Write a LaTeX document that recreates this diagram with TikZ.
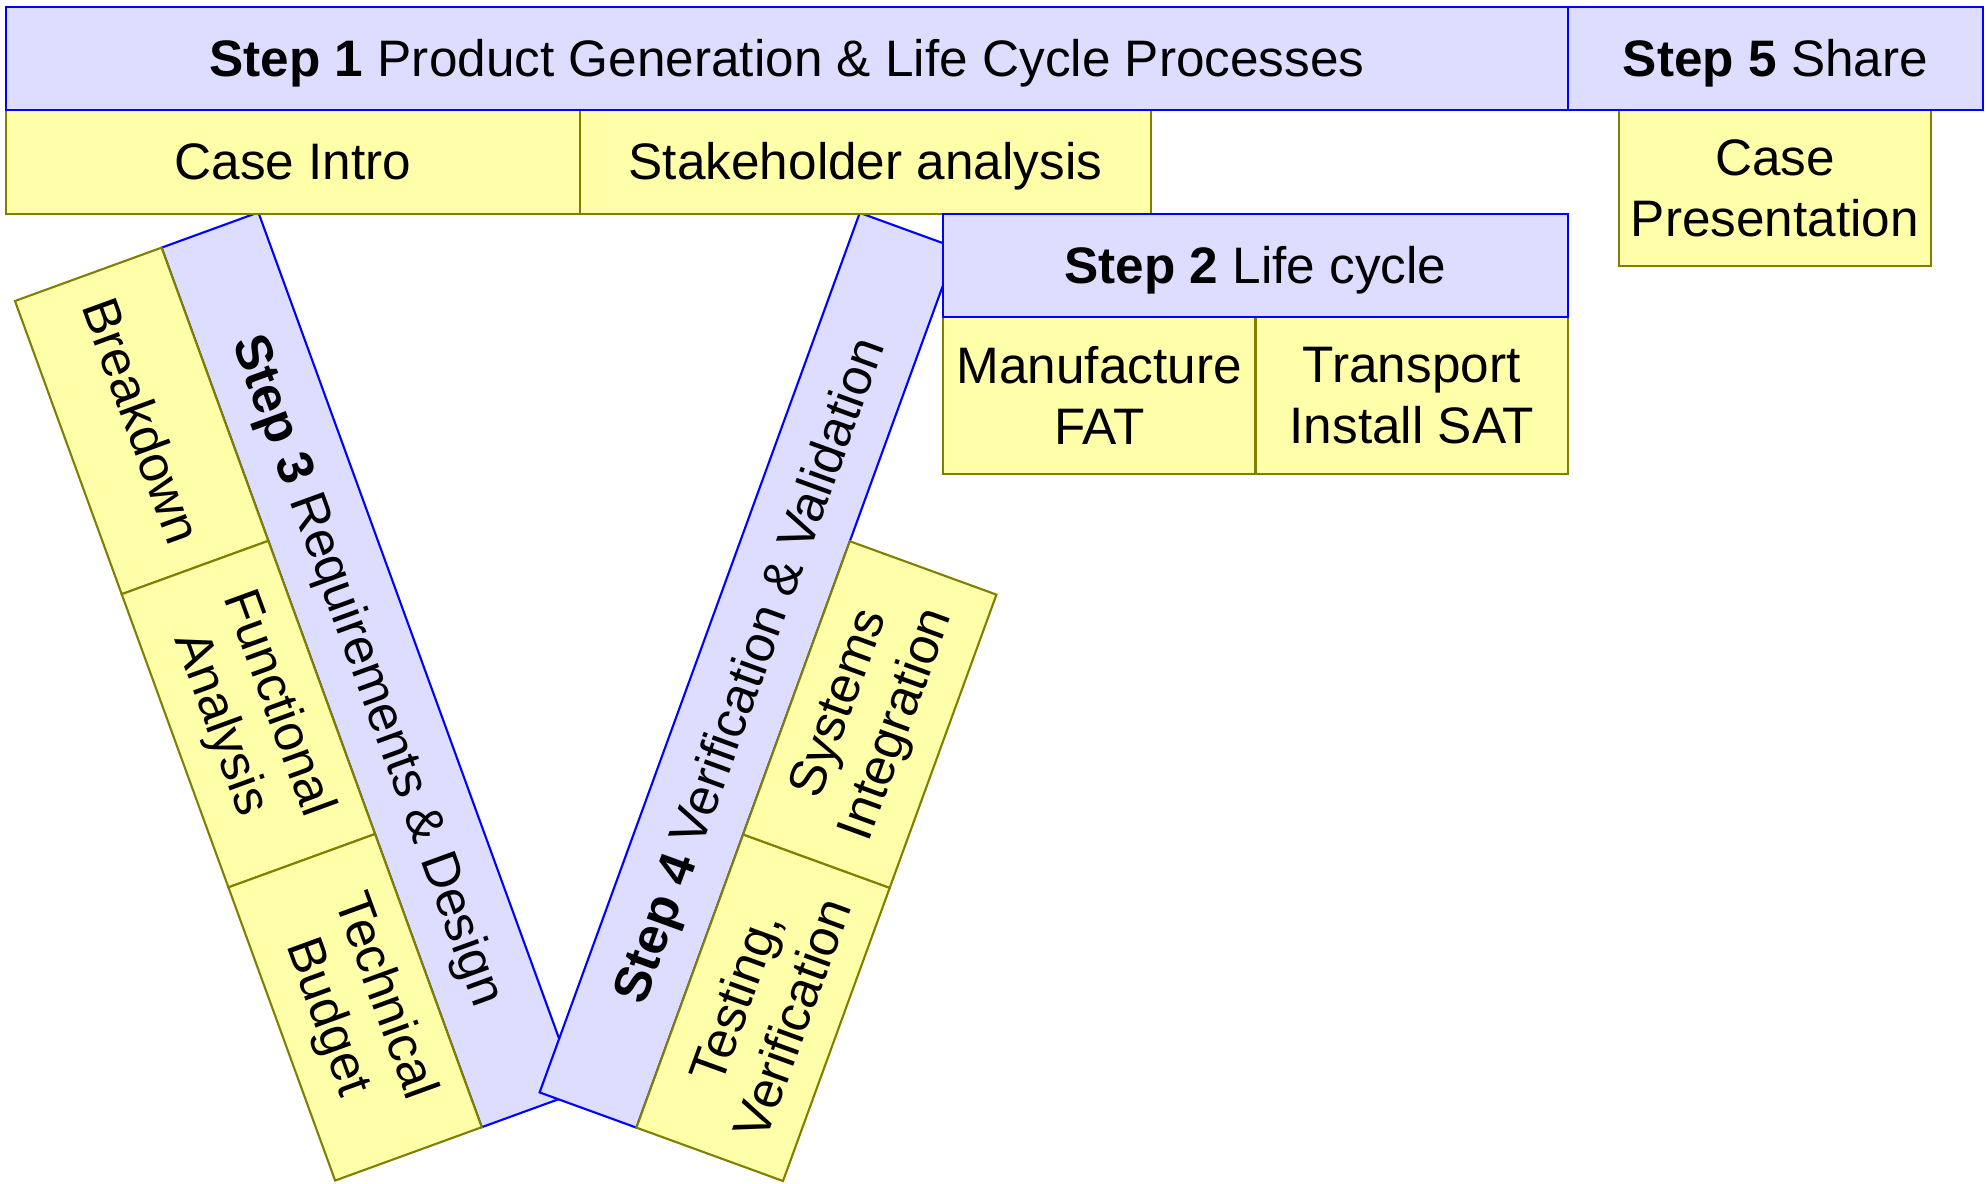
\documentclass[tikz,border=0pt]{standalone}
\usepackage{fontspec}
\setmainfont{Liberation Sans}

\definecolor{headFill}{RGB}{221,221,255}
\definecolor{headLine}{RGB}{0,0,255}
\definecolor{taskFill}{RGB}{255,255,170}
\definecolor{taskLine}{RGB}{128,128,0}

\begin{document}
\begin{tikzpicture}[
    font=\fontsize{14.6pt}{17.3pt}\selectfont,
    oneLine/.style={text height=10pt, text depth=0pt},
    stepHead/.style={draw=headLine, fill=headFill, line width=0.6pt,
        inner sep=0pt, outer sep=0pt, anchor=south west, align=center,
        minimum height=1.03cm, oneLine},
    stepTask/.style={draw=taskLine, fill=taskFill, line width=0.6pt,
        inner sep=0pt, outer sep=0pt, anchor=south west, align=center,
        minimum width=3.12cm, minimum height=1.56cm}
]
    \def\armLen{9.36cm}

    \useasboundingbox (0,0) rectangle (19.86,11.83);

    %perna esquerda do V
    \begin{scope}[shift={(0.15,8.82)}, rotate=-70, transform shape]
        \node[stepHead, minimum width=\armLen] (step3) at (0,1.56)
            {\textbf{Step 3} Requirements \& Design};
        \node[stepTask, oneLine] (breakdown) at (0,0) {Breakdown};
        \node[stepTask] (functional) at (breakdown.south east)
            {Functional\\Analysis};
        \node[stepTask] (budget) at (functional.south east)
            {Technical\\Budget};
    \end{scope}

    %perna direita do V
    \begin{scope}[shift={(7.83,0.02)}, rotate=70, transform shape]
        \node[stepHead, minimum width=\armLen] (step4) at (0,1.56)
            {\textbf{Step 4} Verification \& Validation};
        \node[stepTask] (testing) at (0,0) {Testing,\\Verification};
        \node[stepTask] (integration) at (testing.south east)
            {Systems\\Integration};
    \end{scope}

    %linha de cima
    \node[stepTask, oneLine, minimum width=5.74cm, minimum height=1.04cm]
        (intro) at (0.06,9.69) {Case Intro};
    \node[stepTask, oneLine, minimum width=5.71cm, minimum height=1.04cm]
        (stakeholder) at (intro.south east) {Stakeholder analysis};
    \node[stepTask] (presentation) at (16.19,9.17) {Case\\Presentation};
    \node[stepHead, minimum width=15.62cm] (step1) at (intro.north west)
        {\textbf{Step 1} Product Generation \& Life Cycle Processes};
    \node[stepHead, minimum width=4.15cm] (step5) at (step1.south east)
        {\textbf{Step 5} Share};

    %ciclo de vida
    \node[stepTask, minimum width=3.125cm, minimum height=1.57cm]
        (manufacture) at (9.43,7.09) {Manufacture\\FAT};
    \node[stepTask, minimum width=3.125cm, minimum height=1.57cm]
        (transport) at (manufacture.south east) {Transport\\Install SAT};
    \node[stepHead, minimum width=6.25cm] (step2) at (manufacture.north west)
        {\textbf{Step 2} Life cycle};
\end{tikzpicture}
\end{document}
